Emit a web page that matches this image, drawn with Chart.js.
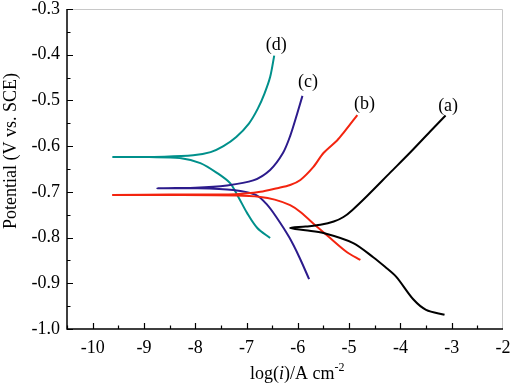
<!DOCTYPE html>
<html>
<head>
<meta charset="utf-8">
<script src="https://cdn.jsdelivr.net/npm/chart.js@4.4.0/dist/chart.umd.min.js"></script>
<style>
    body { margin: 0; background: #fff; }
    #wrap { width: 512px; height: 385px; }
</style>
</head>
<body>
<div id="wrap"><canvas id="chart" width="512" height="385"></canvas></div>
<script>
// curve values: log(i) and potential, from the cathodic end through Ecorr to the anodic end
const aLogI = [-3.14, -3.50, -3.75, -4.08, -4.30, -4.53, -4.92, -5.50, -5.85, -6.15, -5.85, -5.56, -5.30, -5.11, -4.94, -4.65, -4.20, -3.81, -3.42, -3.12];
const aE    = [-0.969, -0.958, -0.935, -0.886, -0.864, -0.843, -0.812, -0.790, -0.784, -0.779, -0.776, -0.772, -0.765, -0.755, -0.740, -0.709, -0.658, -0.614, -0.568, -0.533];

const bLogI = [-4.78, -5.04, -5.37, -5.62, -5.95, -6.15, -6.45, -6.73, -7.20, -8.50, -9.62, -8.50, -7.20, -6.73, -6.40, -6.15, -5.95, -5.70, -5.50, -5.23, -5.11, -4.84];
const bE    = [-0.849, -0.832, -0.801, -0.777, -0.744, -0.729, -0.717, -0.711, -0.708, -0.707, -0.707, -0.706, -0.705, -0.700, -0.692, -0.685, -0.674, -0.646, -0.615, -0.587, -0.571, -0.532];

const cLogI = [-5.78, -5.97, -6.17, -6.42, -6.60, -6.81, -7.26, -8.00, -8.74, -8.00, -7.38, -6.87, -6.54, -6.29, -6.15, -6.01, -5.91];
const cE    = [-0.891, -0.843, -0.799, -0.755, -0.728, -0.707, -0.696, -0.692, -0.692, -0.691, -0.686, -0.675, -0.652, -0.615, -0.578, -0.528, -0.490];

const dLogI = [-6.54, -6.79, -6.99, -7.16, -7.32, -7.57, -7.90, -8.30, -8.90, -9.60, -8.60, -8.04, -7.70, -7.45, -7.20, -6.95, -6.78, -6.65, -6.54, -6.46];
const dE    = [-0.801, -0.779, -0.746, -0.711, -0.681, -0.659, -0.637, -0.626, -0.624, -0.624, -0.623, -0.620, -0.613, -0.600, -0.580, -0.550, -0.518, -0.485, -0.449, -0.402];

const curveNames  = ['(a)', '(b)', '(c)', '(d)'];
const curveColors = ['#000000', '#f3240f', '#2c1b8c', '#00908b'];
const curveLogI   = [aLogI, bLogI, cLogI, dLogI];
const curveE      = [aE, bE, cE, dE];

// where each curve's name sits, in data units
const labelLogI = [-3.07, -4.70, -5.80, -6.42];
const labelE    = [-0.512, -0.508, -0.460, -0.379];

const xTicks = [-10, -9, -8, -7, -6, -5, -4, -3, -2];
const yTicks = [-1.0, -0.9, -0.8, -0.7, -0.6, -0.5, -0.4, -0.3];

const serif = "'Liberation Serif', 'Times New Roman', serif";

const datasets = curveNames.map((name, k) => ({
    label: name,
    data: curveLogI[k].map((x, i) => ({ x, y: curveE[k][i] })),
    showLine: true,
    borderColor: curveColors[k],
    borderWidth: 2,
    pointRadius: 0,
    tension: 0.3,
    fill: false
}));

const noOverhang = (scale) => {
    scale.paddingTop = 0;
    scale.paddingBottom = 0;
    scale.paddingLeft = 0;
    scale.paddingRight = 0;
};

const frame = {
    id: 'frame',
    afterDraw(chart) {
        const { ctx, chartArea: a, scales: { x, y } } = chart;
        ctx.save();

        // top and right edges, light grey
        ctx.strokeStyle = '#c8c8c8';
        ctx.lineWidth = 1;
        ctx.beginPath();
        ctx.moveTo(a.left, a.top + 0.5);
        ctx.lineTo(a.right - 0.5, a.top + 0.5);
        ctx.lineTo(a.right - 0.5, a.bottom);
        ctx.stroke();

        // left and bottom axes with inward ticks
        ctx.strokeStyle = '#000';
        ctx.lineWidth = 1.5;
        ctx.beginPath();
        ctx.moveTo(a.left, a.top);
        ctx.lineTo(a.left, a.bottom);
        ctx.lineTo(a.right, a.bottom);
        ctx.stroke();

        ctx.lineWidth = 1.2;
        ctx.beginPath();
        for (let v = -10.5; v <= -2.001; v += 0.5) {
            const px = Math.round(x.getPixelForValue(v)) + 0.5;
            const len = Number.isInteger(v) ? 6 : 3.5;
            ctx.moveTo(px, a.bottom);
            ctx.lineTo(px, a.bottom - len);
        }
        for (let i = 0; i <= 14; i++) {
            const v = -1.0 + i * 0.05;
            const py = Math.round(y.getPixelForValue(v)) + 0.5;
            const len = i % 2 === 0 ? 6 : 3.5;
            ctx.moveTo(a.left, py);
            ctx.lineTo(a.left + len, py);
        }
        ctx.stroke();

        // curve names
        ctx.fillStyle = '#000';
        ctx.font = '18px ' + serif;
        ctx.textAlign = 'center';
        ctx.textBaseline = 'middle';
        curveNames.forEach((name, k) => {
            ctx.fillText(name, x.getPixelForValue(labelLogI[k]), y.getPixelForValue(labelE[k]));
        });

        // y title
        ctx.save();
        ctx.translate(11, 151);
        ctx.rotate(-Math.PI / 2);
        ctx.fillText('Potential (V vs. SCE)', 0, 0);
        ctx.restore();

        // x title: log(i)/A cm-2 with italic i and superscript
        ctx.textAlign = 'left';
        ctx.textBaseline = 'alphabetic';
        const parts = [
            { t: 'log(', f: '18px ' + serif, dy: 0 },
            { t: 'i', f: 'italic 18px ' + serif, dy: 0 },
            { t: ')/A cm', f: '18px ' + serif, dy: 0 },
            { t: '-2', f: '12px ' + serif, dy: -8 }
        ];
        let tx = 250;
        for (const p of parts) {
            ctx.font = p.f;
            ctx.fillText(p.t, tx, 379 + p.dy);
            tx += ctx.measureText(p.t).width;
        }
        ctx.restore();
    }
};

new Chart(document.getElementById('chart').getContext('2d'), {
    type: 'scatter',
    data: { datasets },
    options: {
        responsive: false,
        animation: false,
        layout: { padding: { top: 9, right: 9, left: 0, bottom: 0 } },
        plugins: { legend: { display: false }, tooltip: { enabled: false } },
        scales: {
            x: {
                type: 'linear',
                min: -10.5,
                max: -2,
                afterBuildTicks: (scale) => { scale.ticks = xTicks.map(value => ({ value })); },
                afterFit: (scale) => { scale.height = 56; noOverhang(scale); },
                grid: { display: false, drawTicks: false },
                border: { display: false },
                ticks: {
                    color: '#000',
                    padding: 8,
                    maxRotation: 0,
                    font: { family: serif, size: 18 },
                    callback: (v) => String(v)
                }
            },
            y: {
                type: 'linear',
                min: -1.0,
                max: -0.3,
                afterBuildTicks: (scale) => { scale.ticks = yTicks.map(value => ({ value })); },
                afterFit: (scale) => { scale.width = 67; noOverhang(scale); },
                grid: { display: false, drawTicks: false },
                border: { display: false },
                ticks: {
                    color: '#000',
                    padding: 7,
                    font: { family: serif, size: 18 },
                    callback: (v) => Number(v).toFixed(1)
                }
            }
        }
    },
    plugins: [frame]
});
</script>
</body>
</html>
